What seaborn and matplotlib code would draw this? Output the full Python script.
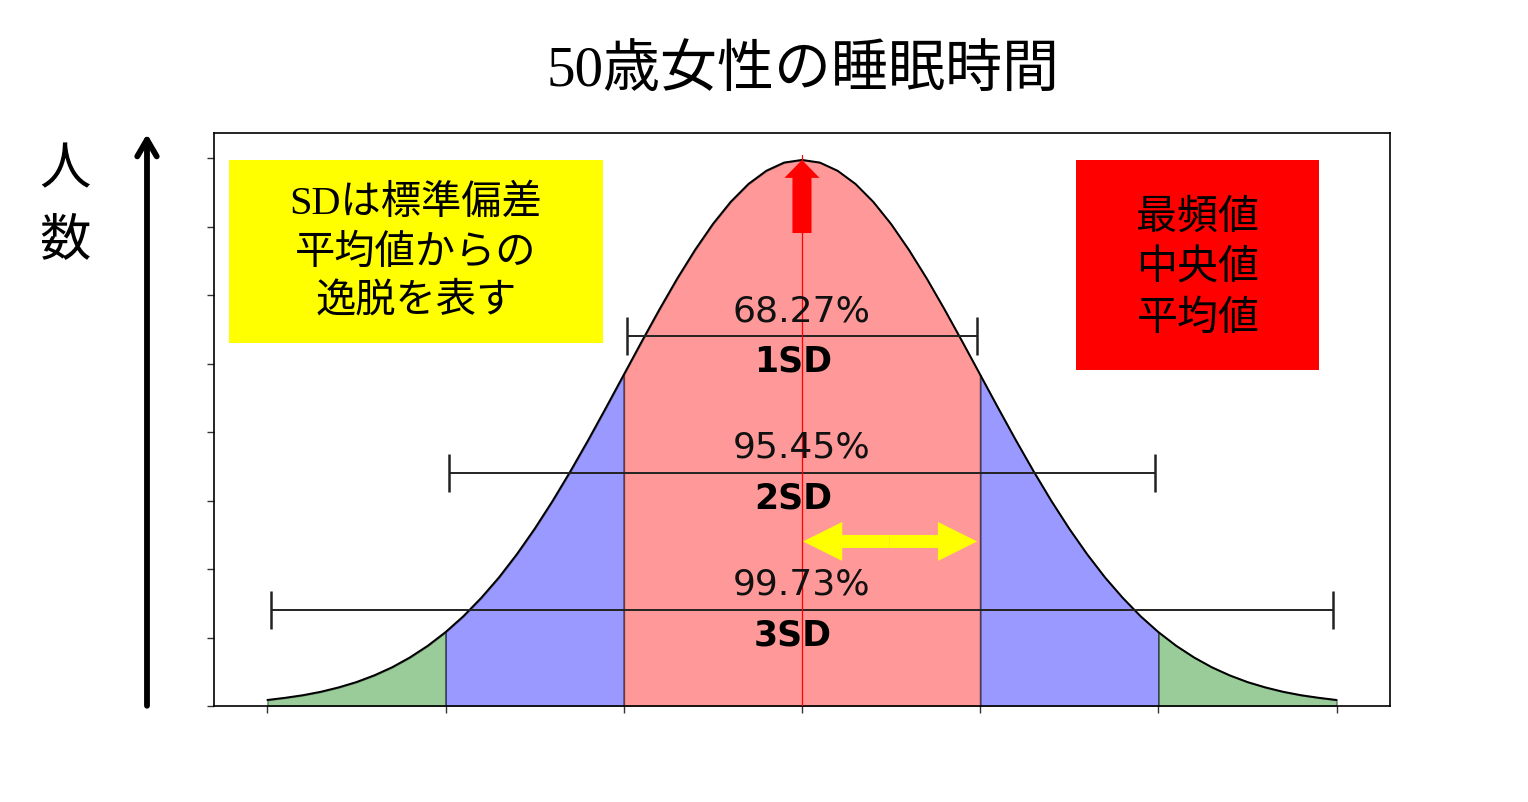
import numpy as np
import matplotlib
matplotlib.use('Agg')
import matplotlib.pyplot as plt
from matplotlib.patches import Rectangle
import seaborn as sns

# 標準正規分布の密度 (x = -3.0 ... 3.0, 0.1刻み, 図から読み取り)
sd_x = np.round(np.arange(-30, 31) / 10, 1)
density = [0.0044, 0.0060, 0.0079, 0.0104, 0.0136, 0.0175, 0.0224, 0.0283, 0.0355, 0.0440,
           0.0540, 0.0656, 0.0790, 0.0940, 0.1109, 0.1295, 0.1497, 0.1714, 0.1942, 0.2179,
           0.2420, 0.2661, 0.2897, 0.3123, 0.3332, 0.3521, 0.3683, 0.3814, 0.3910, 0.3970,
           0.3989,
           0.3970, 0.3910, 0.3814, 0.3683, 0.3521, 0.3332, 0.3123, 0.2897, 0.2661, 0.2420,
           0.2179, 0.1942, 0.1714, 0.1497, 0.1295, 0.1109, 0.0940, 0.0790, 0.0656, 0.0540,
           0.0440, 0.0355, 0.0283, 0.0224, 0.0175, 0.0136, 0.0104, 0.0079, 0.0060, 0.0044]

# 塗り分けの区間と色
band_lo = [-3, -2, -1, 1, 2]
band_hi = [-2, -1, 1, 2, 3]
band_colors = ['green', 'blue', 'red', 'blue', 'green']

# 1SD / 2SD / 3SD の幅と割合
sd_levels = [1, 2, 3]
sd_names = ['1SD', '2SD', '3SD']
sd_pct = ['68.27%', '95.45%', '99.73%']
bar_y = [0.27, 0.17, 0.07]

title = '50歳女性の睡眠時間'
yellow_lines = ['SDは標準偏差', '平均値からの', '逸脱を表す']
red_lines = ['最頻値', '中央値', '平均値']

sns.set_style('ticks')
plt.rcParams['font.family'] = ['Noto Sans CJK JP', 'DejaVu Sans']
plt.rcParams['text.color'] = 'black'

x = np.asarray(sd_x)
y = np.asarray(density)

fig = plt.figure(figsize=(15.28, 8.02), dpi=100)
ax = fig.add_axes([0.140, 0.1197, 0.7697, 0.7145])

# 区間ごとの塗り
for lo, hi, c in zip(band_lo, band_hi, band_colors):
    m = (x >= lo) & (x <= hi)
    ax.fill_between(x[m], 0, y[m], facecolor=c, edgecolor='black', alpha=0.4, lw=1.2, zorder=1)

sns.lineplot(x=x, y=y, color='black', lw=1.4, ax=ax, zorder=2)

# 平均値の縦線と赤矢印
ax.plot([0, 0], [0, 0.4025], color='red', lw=0.9, zorder=4)
ax.arrow(0, 0.3455, 0, max(density) - 0.3455, width=0.107, head_width=0.197,
         head_length=0.0131, length_includes_head=True, color='red', lw=0, zorder=5)

# 1SD の幅を示す黄色の両矢印
mid = 0.49
for tip in [0.006, 0.983]:
    ax.arrow(mid, 0.1202, tip - mid, 0, width=0.0095, head_width=0.0285,
             head_length=0.22, length_includes_head=True, color='#FFFF00', lw=0, zorder=5)

# SD の範囲バー
for k, yb, name, pct in zip(sd_levels, bar_y, sd_names, sd_pct):
    ax.errorbar(0, yb, xerr=k - 0.02, fmt='none', ecolor='#222222',
                elinewidth=1.4, capsize=14, capthick=1.8, zorder=3)
    ax.text(0, yb + 0.0185, pct, ha='center', va='center', fontsize=26,
            family='DejaVu Sans', color='#111111', zorder=6)
    ax.text(-0.05, yb - 0.0185, name, ha='center', va='center', fontsize=25,
            family='DejaVu Sans', weight='bold', color='black', zorder=6)

# 注釈ボックス
ax.add_patch(Rectangle((-3.213, 0.2652), 2.095, 0.1336, facecolor='#FFFF00', lw=0, zorder=3))
for line, ty in zip(yellow_lines, [0.3666, 0.3301, 0.2950]):
    ax.text(-2.166, ty, line, ha='center', va='center', fontsize=29,
            family=['Liberation Serif', 'Noto Sans CJK JP'], zorder=6)

ax.add_patch(Rectangle((1.539, 0.2454), 1.365, 0.1534, facecolor='#FF0000', lw=0, zorder=3))
for line, ty in zip(red_lines, [0.3571, 0.3199, 0.2833]):
    ax.text(2.222, ty, line, ha='center', va='center', fontsize=29.5, zorder=6)

ax.set_xlim(-3.30, 3.30)
ax.set_ylim(0, 0.4186)
ax.set_xticks([-3, -2, -1, 0, 1, 2, 3])
ax.set_xticklabels([])
ax.set_yticks(np.arange(0, 0.41, 0.05))
ax.set_yticklabels([])
ax.tick_params(length=5, width=1, color='#333333')
for s in ax.spines.values():
    s.set_visible(True)
    s.set_color('black')
    s.set_linewidth(1.2)
ax.set_xlabel('')
ax.set_ylabel('')

# タイトルと縦軸の表示
fig.text(0.5255, 0.911, title, ha='center', va='center', fontsize=41,
         family=['Liberation Serif', 'Noto Sans CJK JP'])
fig.text(0.0425, 0.789, '人', ha='center', va='center', fontsize=37)
fig.text(0.0425, 0.700, '数', ha='center', va='center', fontsize=37)
ax.annotate('', xy=(0.0962, 0.833), xytext=(0.0962, 0.120), xycoords='figure fraction',
            textcoords='figure fraction',
            arrowprops=dict(arrowstyle='->,head_length=1.2,head_width=0.7', lw=4.2,
                            color='black', shrinkA=0, shrinkB=0))

fig.savefig('out.png', dpi=100)
